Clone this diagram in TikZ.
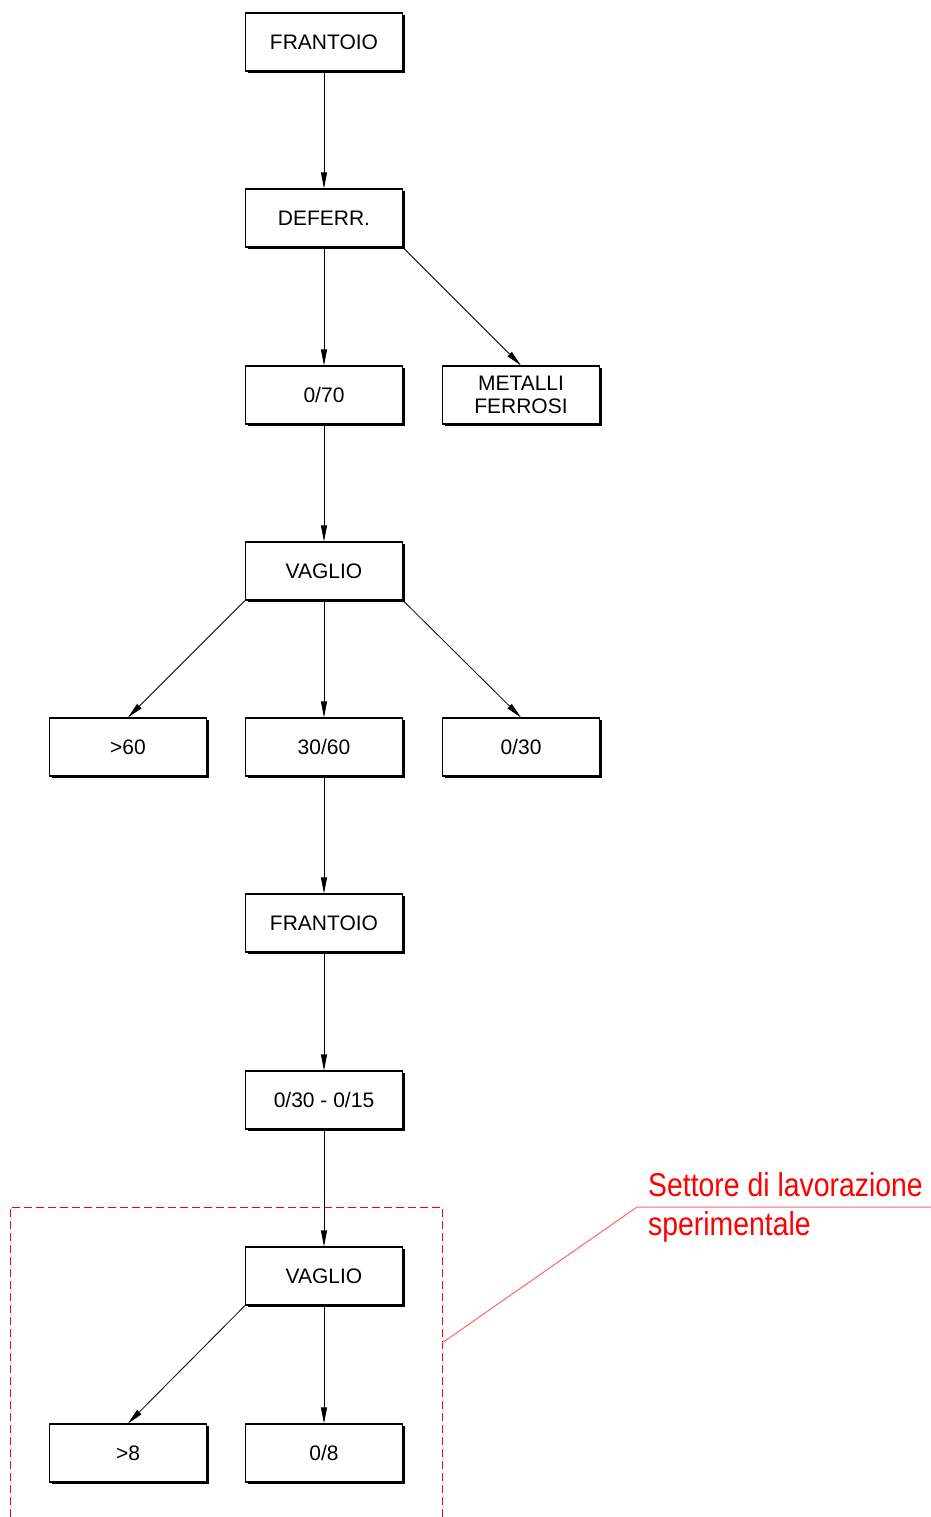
\documentclass[tikz,border=0pt]{standalone}
\usepackage{fontspec}
\setmainfont{Liberation Sans}
\newfontfamily\redfont[FakeStretch=0.86]{Liberation Sans}
\usetikzlibrary{arrows.meta,shadows}
\begin{document}
\begin{tikzpicture}[x=1pt,y=-1pt,
  boxnode/.style={draw, line width=1.1pt, fill=white, minimum width=157pt, minimum height=58pt,
    inner sep=0pt, align=center, font=\fontsize{21}{23}\selectfont,
    drop shadow={shadow xshift=2pt, shadow yshift=-2pt, fill=black, opacity=1}},
  flow/.style={line width=0.8pt, -{Triangle[length=16pt,width=6pt]}},
  sector/.style={red, line width=1pt, dash pattern=on 8pt off 4pt},
  leader/.style={red!60, line width=1pt}]
\useasboundingbox (0,0) rectangle (931,1517);
% sector outline
\coordinate (sl) at (10,1517);
\coordinate (stl) at (10,1207);
\coordinate (str) at (442,1207);
\coordinate (sr) at (442,1517);
\draw[sector] (sl) -- (stl) -- (str) -- (sr);
% boxes
\node[boxnode] (f1) at (324,42) {FRANTOIO};
\node[boxnode] (def) at (324,218) {DEFERR.};
\node[boxnode] (a070) at (324,395) {0/70};
\node[boxnode] (met) at (521,395) {METALLI\\FERROSI};
\node[boxnode] (v1) at (324,571) {VAGLIO};
\node[boxnode] (g60) at (128,747) {>60};
\node[boxnode] (a3060) at (324,747) {30/60};
\node[boxnode] (a030) at (521,747) {0/30};
\node[boxnode] (f2) at (324,923) {FRANTOIO};
\node[boxnode] (a015) at (324,1100) {0/30 - 0/15};
\node[boxnode] (v2) at (324,1276) {VAGLIO};
\node[boxnode] (g8) at (128,1453) {>8};
\node[boxnode] (a08) at (324,1453) {0/8};
% connectors
\draw[flow] (f1) -- (def);
\draw[flow] (def) -- (a070);
\draw[flow] (def.south east) -- (met.north);
\draw[flow] (a070) -- (v1);
\draw[flow] (v1.south west) -- (g60.north);
\draw[flow] (v1) -- (a3060);
\draw[flow] (v1.south east) -- (a030.north);
\draw[flow] (a3060) -- (f2);
\draw[flow] (f2) -- (a015);
\draw[flow] (a015) -- (v2);
\draw[flow] (v2.south west) -- (g8.north);
\draw[flow] (v2) -- (a08);
% leader and label
\coordinate (lA) at (442,1343);
\coordinate (lB) at (637,1207);
\coordinate (lC) at (931,1207);
\draw[leader] (lA) -- (lB) -- (lC);
\node[anchor=base west, inner sep=0pt, red, font=\redfont\fontsize{33}{39}\selectfont] (lab1) at (648,1196) {Settore di lavorazione};
\node[anchor=base west, inner sep=0pt, red, font=\redfont\fontsize{33}{39}\selectfont] (lab2) at (648,1235) {sperimentale};
\end{tikzpicture}
\end{document}
